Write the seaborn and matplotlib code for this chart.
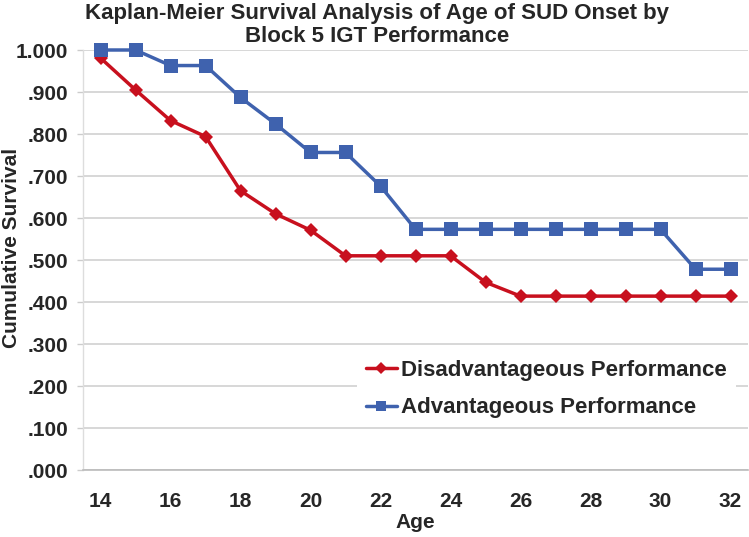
import pandas as pd
import numpy as np
import matplotlib
matplotlib.use('Agg')
import matplotlib.pyplot as plt
from matplotlib.ticker import FixedLocator
import seaborn as sns

# data
ages = list(range(14, 33))
disadvantageous = [0.981, 0.905, 0.832, 0.794, 0.665, 0.610, 0.571, 0.510, 0.510, 0.510,
                   0.510, 0.447, 0.414, 0.414, 0.414, 0.414, 0.414, 0.414, 0.414]
advantageous = [1.000, 1.000, 0.963, 0.963, 0.887, 0.824, 0.756, 0.756, 0.676, 0.573,
                0.573, 0.573, 0.573, 0.573, 0.573, 0.573, 0.573, 0.478, 0.478]
series_names = ['Disadvantageous Performance', 'Advantageous Performance']
y_ticks = [0.0, 0.1, 0.2, 0.3, 0.4, 0.5, 0.6, 0.7, 0.8, 0.9, 1.0]
y_tick_labels = ['.000', '.100', '.200', '.300', '.400', '.500', '.600', '.700', '.800', '.900', '1.000']
x_ticks = [14, 16, 18, 20, 22, 24, 26, 28, 30, 32]

df = pd.DataFrame({
    'Age': ages * 2,
    'Survival': disadvantageous + advantageous,
    'Group': [series_names[0]] * len(ages) + [series_names[1]] * len(ages),
})

sns.set_style('white')
plt.rcParams['font.family'] = ['Liberation Sans', 'DejaVu Sans']
plt.rcParams['font.weight'] = 'bold'

red = '#C8101E'
blue = '#3F62AE'
grid_col = '#D4D4D4'

fig = plt.figure(figsize=(7.49, 5.37), dpi=100)
ax = fig.add_axes([83 / 749, 1 - 470 / 537, 665 / 749, 420 / 537])

ax.yaxis.grid(True, color=grid_col, linewidth=1.3)
ax.set_axisbelow(True)

sns.lineplot(data=df, x='Age', y='Survival', hue='Group', style='Group',
             palette={series_names[0]: red, series_names[1]: blue},
             markers={series_names[0]: 'D', series_names[1]: 's'},
             dashes=False, linewidth=2.5, markeredgewidth=0,
             ax=ax)

# marker sizes per series, keep markers at the top edge visible
for line in ax.lines:
    line.set_clip_on(False)
    if line.get_color() == red:
        line.set_markersize(7.5)
    else:
        line.set_markersize(9.5)

ax.set_xlim(13.5, 32.5)
ax.set_ylim(0, 1)
ax.set_yticks(y_ticks)
ax.set_yticklabels(y_tick_labels)
ax.set_xticks(x_ticks)
ax.set_xticklabels([str(a) for a in x_ticks])
ax.xaxis.set_minor_locator(FixedLocator(np.arange(13.5, 33, 1)))

ax.tick_params(axis='x', which='major', length=0, pad=16, labelsize=15)
ax.tick_params(axis='x', which='minor', length=6, color='#BBBBBB', width=1, direction='out')
ax.tick_params(axis='y', which='major', length=4.5, color='#CCCCCC', width=1, pad=6, labelsize=15, left=True)
for lab in ax.get_xticklabels() + ax.get_yticklabels():
    lab.set_fontweight('bold')

for side in ['top', 'right']:
    ax.spines[side].set_visible(False)
ax.spines['left'].set_color('#DDDDDD')
ax.spines['bottom'].set_color('#BBBBBB')
ax.spines['left'].set_linewidth(1)
ax.spines['bottom'].set_linewidth(1.2)

ax.set_xlabel('Age', fontsize=15, fontweight='bold', labelpad=1)
ax.set_ylabel('')
fig.text(12 / 749, 1 - 248 / 537, 'Cumulative Survival', rotation=90,
         ha='center', va='center', fontsize=15, fontweight='bold')

fig.text(0.503, 1 - 25 / 537,
         'Kaplan-Meier Survival Analysis of Age of SUD Onset by\nBlock 5 IGT Performance',
         ha='center', va='center', fontsize=16, fontweight='bold', linespacing=1.15)

handles, labels = ax.get_legend_handles_labels()
leg = ax.legend(handles, labels, loc='upper left', bbox_to_anchor=(0.395, 0.31),
                frameon=True, facecolor='white', edgecolor='none', framealpha=1,
                fontsize=16, handlelength=1.4, handletextpad=0.2, labelspacing=0.75,
                borderpad=0.4)
for t in leg.get_texts():
    t.set_fontweight('bold')
for h in leg.legend_handles:
    h.set_markersize(6.5)

fig.savefig('out.png', dpi=100)
